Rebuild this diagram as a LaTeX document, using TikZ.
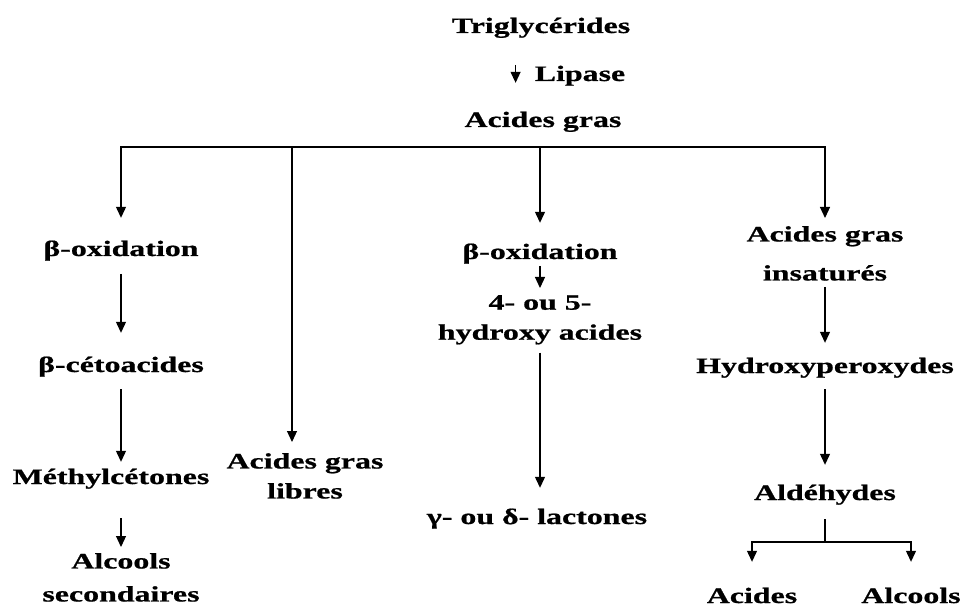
\documentclass[tikz,border=0pt]{standalone}
\usepackage{fontspec}
\setmainfont{Liberation Serif}[FakeStretch=1.45, FakeBold=0.8]
\usetikzlibrary{arrows.meta}

\begin{document}
\begin{tikzpicture}[
    x=1pt, y=-1pt,
    every node/.style={font=\bfseries\fontsize{22}{30}\selectfont, inner sep=0pt},
    one/.style={text height=15pt, text depth=4.8pt, anchor=base},
    two/.style={align=center, anchor=north},
    arrow/.style={-{Triangle[width=10pt,length=11pt]}, line width=1.2pt}
]
\useasboundingbox (0,0) rectangle (966,612);

\node[one] (trig) at (541,33) {Triglycérides};
\node[one] (lip) at (580,81) {Lipase};
\node[one] (acg) at (543,127) {Acides gras};
\coordinate (bar) at (540,147);
\coordinate (fork) at (292,147);

\node[one] (ox1) at (121,256) {β-oxidation};
\node[one] (ceto) at (121,372) {β-cétoacides};
\node[one] (meth) at (111,484) {Méthylcétones};
\node[two] (alc2) at (121,553) {Alcools\\[3pt]secondaires};
\node[two] (agl) at (305,453) {Acides gras\\libres};
\node[one] (ox2) at (540,259) {β-oxidation};
\node[two] (hyd) at (540,295) {4- ou 5-\\hydroxy acides};
\node[one] (lac) at (537,524) {γ- ou δ- lactones};
\node[two] (agi) at (825,226) {Acides gras\\[9pt]insaturés};
\node[one] (hpx) at (825,373) {Hydroxyperoxydes};
\node[one] (ald) at (825,500) {Aldéhydes};
\coordinate (split) at (825,542);
\node[one] (acd) at (752,603) {Acides};
\node[one] (alc) at (911,603) {Alcools};

\draw[arrow, shorten <=27pt, shorten >=29pt] ([xshift=-19pt]lip.west |- trig.south) -- ([xshift=-19pt]lip.west |- acg.north);
\draw[arrow, shorten >=23pt] (bar) -| (ox1.north);
\draw[arrow, shorten >=8pt] (bar) -| (agi.north);
\draw[arrow, shorten >=21pt] (bar) -- (ox2.north);
\draw[arrow, shorten >=11pt] (fork) -- (fork |- agl.north);

\draw[arrow, shorten <=13pt, shorten >=24pt] (ox1.south) -- (ox1.south |- ceto.north);
\draw[arrow, shorten <=12pt, shorten >=7pt] (ceto.south) -- (ceto.south |- meth.north);
\draw[arrow, shorten <=29pt, shorten >=6pt] (meth.south -| alc2.north) -- (alc2.north);
\draw[arrow, shorten <=2pt, shorten >=7pt] (ox2.south) -- (hyd.north);
\draw[arrow, shorten <=8pt, shorten >=21pt] (hyd.south) -- (hyd.south |- lac.north);
\draw[arrow, shorten <=6pt, shorten >=15pt] (agi.south) -- (hpx.north);
\draw[arrow, shorten <=11pt, shorten >=20pt] (hpx.south) -- (ald.north);
\draw[line width=1.2pt, shorten <=14pt] (ald.south) -- (split);
\draw[arrow, shorten >=26pt] (split) -| (acd.north);
\draw[arrow, shorten >=26pt] (split) -| (alc.north);
\end{tikzpicture}
\end{document}
